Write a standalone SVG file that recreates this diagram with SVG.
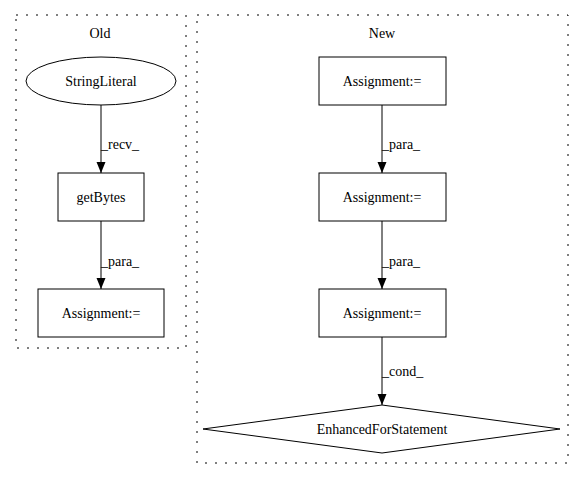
<svg xmlns="http://www.w3.org/2000/svg" width="584" height="480" viewBox="0 0 584 480">
<defs>
<style>
text{font-family:"Liberation Serif","Times New Roman",serif;font-size:14px;fill:#000}
.c{text-anchor:middle}
.cl{fill:none;stroke:#000;stroke-dasharray:2,8;stroke-width:1}
.n{fill:#fff;stroke:#000;stroke-width:1}
.e{stroke:#000;stroke-width:1;fill:none;marker-end:url(#ah)}
</style>
<marker id="ah" markerWidth="11" markerHeight="10" refX="11" refY="5" orient="auto" markerUnits="userSpaceOnUse">
<path d="M0,0.5 L11,5 L0,9.5 Z" fill="#000" stroke="none"/>
</marker>
</defs>
<rect width="584" height="480" fill="#fff"/>
<g id="cluster_old">
<rect class="cl" x="16" y="15" width="170" height="333"/>
<text class="c" x="100" y="38">Old</text>
</g>
<g id="cluster_new">
<rect class="cl" x="197" y="15" width="371" height="448"/>
<text class="c" x="382" y="38">New</text>
</g>
<g id="connectors">
<line class="e" x1="101" y1="105" x2="101" y2="173"/>
<text x="101" y="149">_recv_</text>
<line class="e" x1="101" y1="221" x2="101" y2="289"/>
<text x="101" y="266">_para_</text>
<line class="e" x1="382" y1="105" x2="382" y2="173"/>
<text x="382" y="149">_para_</text>
<line class="e" x1="382" y1="221" x2="382" y2="289"/>
<text x="382" y="266">_para_</text>
<line class="e" x1="382" y1="337" x2="382" y2="405"/>
<text x="382" y="376">_cond_</text>
</g>
<g id="StringLiteral">
<ellipse class="n" cx="101" cy="81" rx="75" ry="24"/>
<text class="c" x="101" y="86">StringLiteral</text>
</g>
<g id="getBytes">
<rect class="n" x="58" y="173" width="86" height="48"/>
<text class="c" x="101" y="202">getBytes</text>
</g>
<g id="Assignment_old">
<rect class="n" x="38" y="289" width="126" height="48"/>
<text class="c" x="101" y="318">Assignment:=</text>
</g>
<g id="Assignment_new1">
<rect class="n" x="319" y="57" width="127" height="48"/>
<text class="c" x="382" y="86">Assignment:=</text>
</g>
<g id="Assignment_new2">
<rect class="n" x="319" y="173" width="127" height="48"/>
<text class="c" x="382" y="202">Assignment:=</text>
</g>
<g id="Assignment_new3">
<rect class="n" x="319" y="289" width="127" height="48"/>
<text class="c" x="382" y="318">Assignment:=</text>
</g>
<g id="EnhancedForStatement">
<polygon class="n" points="382,405 560,429 382,453 203,429"/>
<text class="c" x="382" y="434">EnhancedForStatement</text>
</g>
</svg>
